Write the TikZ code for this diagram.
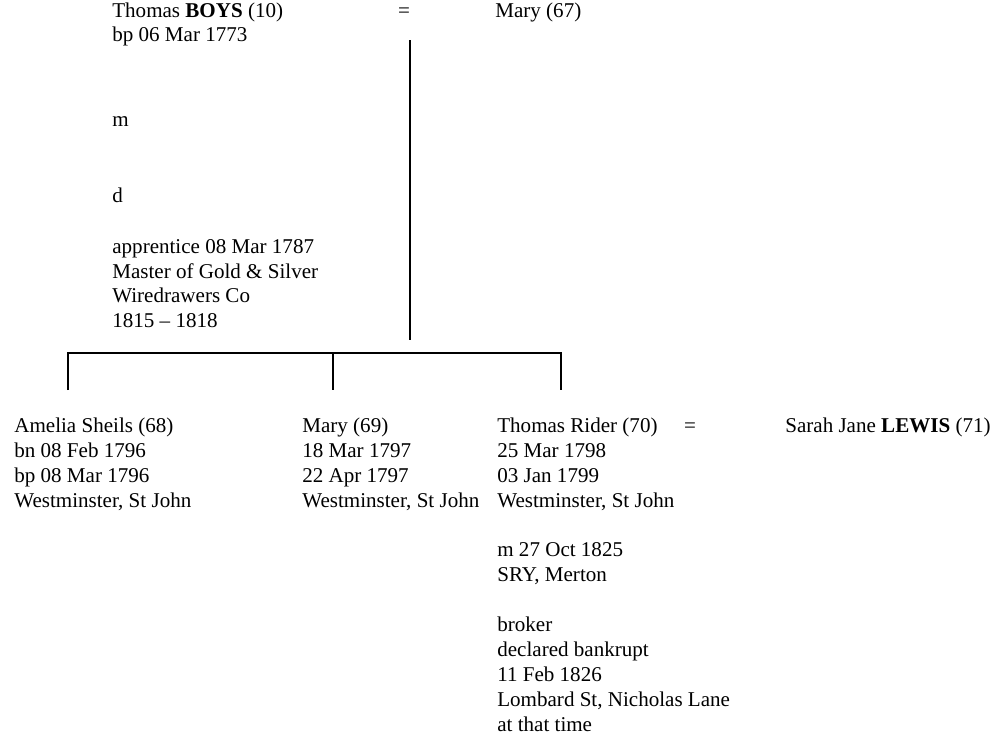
\documentclass[tikz,border=0pt]{standalone}
\usepackage{fontspec}
\setmainfont{Liberation Serif}
\newcommand{\entry}[1]{\begin{tabular}[t]{@{}l@{}}#1\end{tabular}}
\tikzset{
  txt/.style={anchor=base west, inner sep=0pt, font=\fontsize{12}{14.25}\selectfont},
  eqs/.style={anchor=base, inner sep=0pt, font=\fontsize{12}{14.25}\selectfont},
  rel/.style={line width=1.2pt}
}
\begin{document}
\begin{tikzpicture}[x=0.57pt,y=-0.57pt]
\useasboundingbox (0,0) rectangle (996,740);
%Parents
\node[txt] (thomas) at (112,17) {\entry{Thomas \textbf{BOYS} (10)\\bp 06 Mar 1773}};
\node[eqs] (eqtop) at (404,17) {=};
\node[txt] (mary) at (495,17) {Mary (67)};
\node[txt] (marr) at (112,126) {m};
\node[txt] (death) at (112,202) {d};
\node[txt] (notes) at (112,253) {\entry{apprentice 08 Mar 1787\\Master of Gold \& Silver\\Wiredrawers Co\\1815 -- 1818}};
%Lines
\coordinate (ptop) at (410,40);
\coordinate (pbot) at (410,340);
\coordinate (barL) at (68,353);
\coordinate (barM) at (333,353);
\coordinate (barR) at (561,353);
\coordinate (tickL) at (68,390);
\coordinate (tickM) at (333,390);
\coordinate (tickR) at (561,390);
\draw[rel] (ptop) -- (pbot);
\draw[rel] (tickL) -- (barL) -- (barR) -- (tickR);
\draw[rel] (barM) -- (tickM);
%Children
\node[txt] (amelia) at (14,432) {\entry{Amelia Sheils (68)\\bn 08 Feb 1796\\bp 08 Mar 1796\\Westminster, St John}};
\node[txt] (mary2) at (302,432) {\entry{Mary (69)\\18 Mar 1797\\22 Apr 1797\\Westminster, St John}};
\node[txt] (rider) at (497,432) {\entry{Thomas Rider (70)\\25 Mar 1798\\03 Jan 1799\\Westminster, St John\\ \\m 27 Oct 1825\\SRY, Merton\\ \\broker\\declared bankrupt\\11 Feb 1826\\Lombard St, Nicholas Lane\\at that time}};
\node[eqs] (eqbot) at (690,432) {=};
\node[txt] (sarah) at (785,432) {Sarah Jane \textbf{LEWIS} (71)};
\end{tikzpicture}
\end{document}
